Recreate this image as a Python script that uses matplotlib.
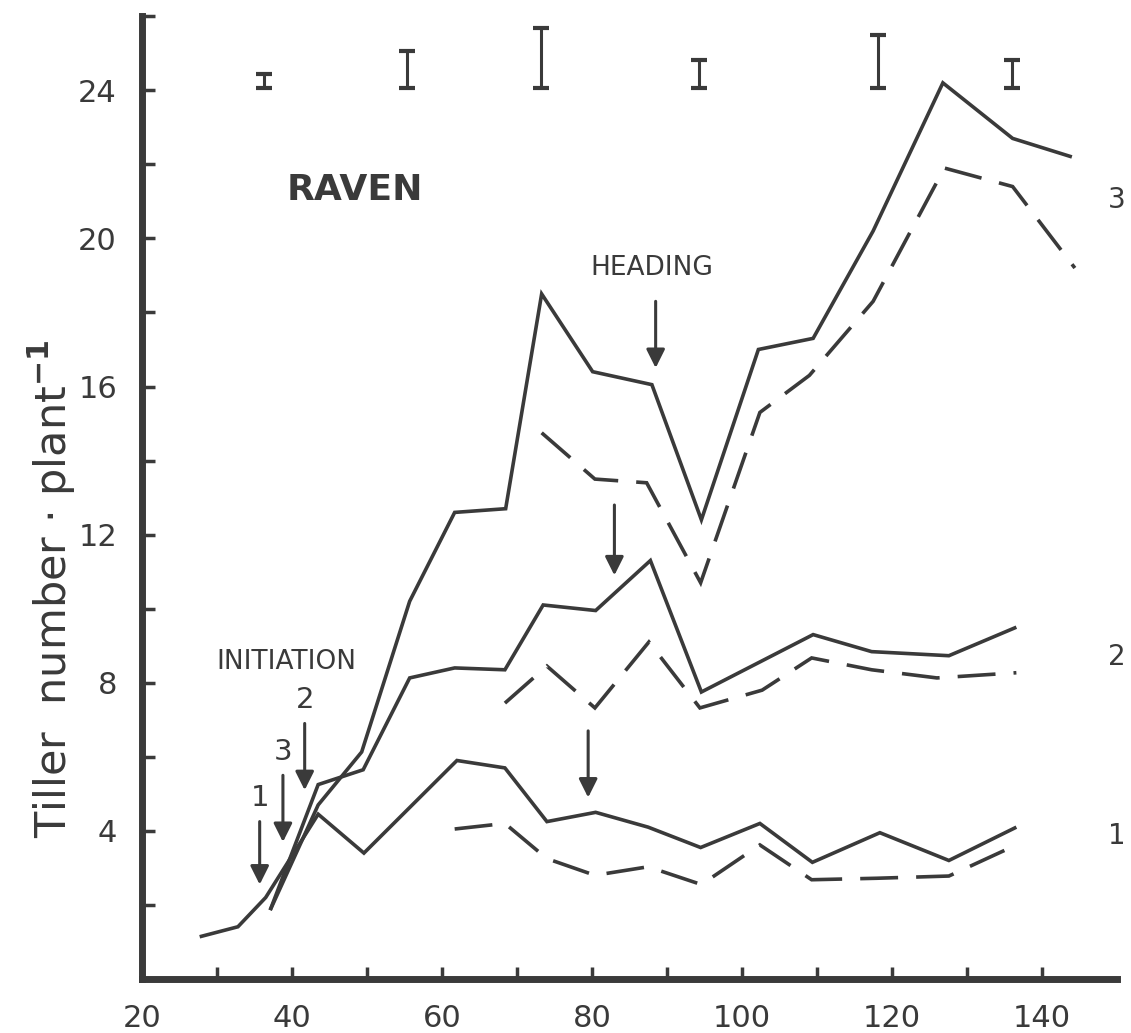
import matplotlib
matplotlib.use("Agg")
import matplotlib.pyplot as plt
import numpy as np

# ---- data (days after sowing vs tillers per plant) ----
# solid lines
x_sol1 = [27.7, 32.8, 36.5, 43.5, 49.6, 62.0, 68.4, 74.0, 80.5, 87.5, 94.5, 102.4, 109.4, 118.4, 127.6, 136.6]
y_sol1 = [1.14, 1.41, 2.2, 4.45, 3.4, 5.9, 5.7, 4.25, 4.5, 4.1, 3.55, 4.2, 3.15, 3.95, 3.2, 4.1]

x_sol2 = [37.1, 43.5, 49.5, 55.7, 61.7, 68.4, 73.5, 80.5, 87.8, 94.6, 109.5, 117.3, 127.6, 136.6]
y_sol2 = [1.86, 5.25, 5.65, 8.13, 8.4, 8.35, 10.1, 9.95, 11.3, 7.75, 9.3, 8.84, 8.73, 9.5]

x_sol3 = [37.1, 43.5, 49.3, 55.7, 61.7, 68.5, 73.3, 80.1, 88.0, 94.6, 102.2, 109.5, 117.5, 126.8, 136.1, 144.0]
y_sol3 = [1.86, 4.7, 6.13, 10.2, 12.6, 12.7, 18.5, 16.4, 16.05, 12.4, 17.0, 17.3, 20.2, 24.2, 22.7, 22.2]

# dashed lines
x_dash1 = [61.7, 68.4, 74.0, 80.4, 87.5, 94.6, 102.4, 109.3, 118.0, 127.6, 136.6]
y_dash1 = [4.05, 4.2, 3.25, 2.8, 3.03, 2.55, 3.62, 2.68, 2.72, 2.78, 3.62]

x_dash2 = [68.4, 74.0, 80.4, 87.6, 94.4, 102.7, 109.3, 117.3, 126.0, 136.6]
y_dash2 = [7.45, 8.45, 7.32, 9.1, 7.32, 7.8, 8.67, 8.35, 8.13, 8.27]

x_dash3 = [73.3, 80.4, 87.3, 94.5, 102.4, 109.0, 117.5, 127.0, 136.1, 144.4]
y_dash3 = [14.75, 13.5, 13.4, 10.7, 15.3, 16.3, 18.3, 21.9, 21.4, 19.2]

# LSD bars along the top
x_lsd = [36.3, 55.3, 73.2, 94.3, 118.1, 136.0]
lsd_half = [0.2, 0.5, 0.82, 0.38, 0.72, 0.38]

# initiation arrows (label, x, top, tip) and heading arrows (x, top, tip)
init_arrows = [("1", 35.7, 4.25, 2.55), ("3", 38.8, 5.5, 3.7), ("2", 41.7, 6.9, 5.1)]
head_arrows = [(88.5, 18.3, 16.5), (83.0, 12.8, 10.9), (79.5, 6.7, 4.9)]

INK = "#3a3a3a"
plt.rcParams['font.family'] = ['DejaVu Sans']

fig = plt.figure(figsize=(11.31, 10.33), dpi=100)
ax = fig.add_axes([0.1255, 0.0523, 0.862, 0.932])

lw = 2.6
for xs, ys in [(x_sol1, y_sol1), (x_sol2, y_sol2), (x_sol3, y_sol3)]:
    ax.plot(xs, ys, color=INK, lw=lw, solid_joinstyle='miter', solid_capstyle='butt')
for xs, ys in [(x_dash1, y_dash1), (x_dash2, y_dash2), (x_dash3, y_dash3)]:
    ax.plot(xs, ys, color=INK, lw=lw, dashes=(10.5, 5), dash_joinstyle='miter')

# LSD bars
lsd_bottom = 24.05
ax.errorbar(x_lsd, [lsd_bottom + h for h in lsd_half], yerr=lsd_half, fmt='none',
            ecolor=INK, elinewidth=2.2, capsize=6, capthick=3)

# arrows
for lab, xa, top, tip in init_arrows:
    ax.annotate("", xy=(xa, tip), xytext=(xa, top),
                arrowprops=dict(arrowstyle='-|>', color=INK, lw=2.2, mutation_scale=28,
                                shrinkA=0, shrinkB=0))
    ax.text(xa, top + 0.25, lab, ha='center', va='bottom', fontsize=21, color=INK)
for xa, top, tip in head_arrows:
    ax.annotate("", xy=(xa, tip), xytext=(xa, top),
                arrowprops=dict(arrowstyle='-|>', color=INK, lw=2.2, mutation_scale=28,
                                shrinkA=0, shrinkB=0))

ax.text(39.3, 8.57, "INITIATION", ha='center', va='center', fontsize=19, color=INK)
ax.text(88.0, 19.2, "HEADING", ha='center', va='center', fontsize=19, color=INK)
ax.text(48.4, 21.3, "RAVEN", ha='center', va='center', fontsize=26, fontweight='bold', color=INK)

for lab, yl in [("3", 21.05), ("2", 8.7), ("1", 3.85)]:
    ax.text(150.0, yl, lab, ha='center', va='center', fontsize=20, color=INK, clip_on=False)

# axes styling
ax.set_xlim(20, 150)
ax.set_ylim(0, 26)
ax.set_xticks(np.arange(20, 141, 10))
ax.set_xticklabels([str(v) if v % 20 == 0 else "" for v in range(20, 141, 10)])
ax.set_yticks(np.arange(2, 27, 2))
ax.set_yticklabels([str(v) if v % 4 == 0 and v <= 24 else "" for v in range(2, 27, 2)])
ax.tick_params(direction='in', length=9, width=2.5, color=INK, labelcolor=INK, labelsize=22)
ax.tick_params(axis='y', pad=18)
ax.tick_params(axis='x', pad=18)
for side in ['top', 'right']:
    ax.spines[side].set_visible(False)
for side in ['left', 'bottom']:
    ax.spines[side].set_linewidth(5)
    ax.spines[side].set_color(INK)
    ax.spines[side].set_capstyle('projecting')

fig.text(0.046, 0.43, r"Tiller  number $\cdot$ plant$^{\mathbf{-1}}$", rotation=90,
         ha='center', va='center', fontsize=31, color=INK)

fig.savefig("out.png", dpi=100)
